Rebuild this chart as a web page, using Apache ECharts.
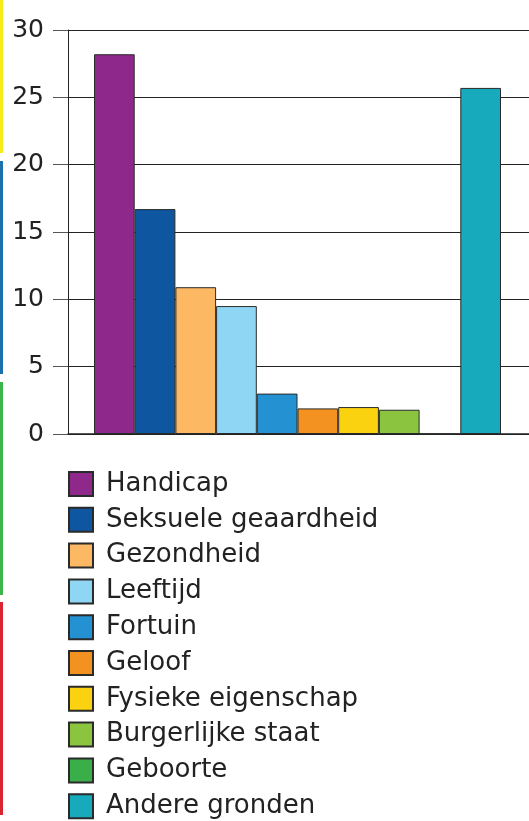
<!DOCTYPE html>
<html>
<head>
<meta charset="utf-8">
<script src="https://cdn.jsdelivr.net/npm/echarts@6/dist/echarts.min.js"></script>
<style>
  html, body { margin: 0; padding: 0; background: #fff; }
  #main { width: 529px; height: 821px; }
</style>
</head>
<body>
<div id="main"></div>
<script>
var categories = ["Handicap", "Seksuele geaardheid", "Gezondheid", "Leeftijd", "Fortuin",
  "Geloof", "Fysieke eigenschap", "Burgerlijke staat", "Geboorte", "Andere gronden"];
var values = [28.2, 16.7, 10.9, 9.5, 3.0, 1.9, 2.0, 1.8, 0, 25.7];
var colors = ["#8e288a", "#0e56a0", "#fdb863", "#8fd6f5", "#2391d2",
  "#f39220", "#fad20f", "#8bc540", "#3aae49", "#17a9bc"];
var yTicks = [0, 5, 10, 15, 20, 25, 30];

var chartDom = document.getElementById("main");
var myChart = echarts.init(chartDom);

// one series per category so every category gets its own legend entry
var series = categories.map(function (name, i) {
  var data = categories.map(function (c, j) { return j === i ? values[i] : null; });
  return {
    name: name,
    type: "bar",
    stack: "all",
    xAxisIndex: 1,
    yAxisIndex: 1,
    barWidth: "100%",
    itemStyle: { color: colors[i], borderColor: "#2a2a2a", borderWidth: 1 },
    emphasis: { disabled: true },
    data: data
  };
});

var option = {
  animation: false,
  textStyle: { fontFamily: "DejaVu Sans" },
  grid: [
    { left: 68, right: -2, top: 30, bottom: 387 },
    { left: 94, right: 28, top: 30, bottom: 387 }
  ],
  xAxis: [
    {
      gridIndex: 0, type: "value", min: 0, max: 1,
      axisLine: { show: true, lineStyle: { color: "#222", width: 1.5 } },
      axisTick: { show: false }, axisLabel: { show: false }, splitLine: { show: false }
    },
    {
      gridIndex: 1, type: "category", data: categories, show: false
    }
  ],
  yAxis: [
    {
      gridIndex: 0, type: "value", min: yTicks[0], max: yTicks[yTicks.length - 1], interval: 5,
      axisLine: { show: true, lineStyle: { color: "#222", width: 1 } },
      axisTick: { show: true, length: 15, lineStyle: { color: "#555" } },
      axisLabel: { fontSize: 25, color: "#222", margin: 24 },
      splitLine: { show: true, lineStyle: { color: "#222", width: 1 } }
    },
    {
      gridIndex: 1, type: "value", min: yTicks[0], max: yTicks[yTicks.length - 1], show: false
    }
  ],
  legend: {
    orient: "vertical",
    left: 68,
    top: 471,
    height: 420,
    padding: 0,
    icon: "rect",
    itemWidth: 24,
    itemHeight: 24,
    itemGap: 9.8,
    selectedMode: false,
    data: categories,
    textStyle: { fontSize: 26, color: "#222", padding: [0, 0, 0, 8] }
  },
  graphic: [
    { type: "rect", shape: { x: 0, y: 0, width: 3, height: 153 }, style: { fill: "#f5ec1a" } },
    { type: "rect", shape: { x: 0, y: 161, width: 3, height: 213 }, style: { fill: "#1c70ac" } },
    { type: "rect", shape: { x: 0, y: 382, width: 3, height: 213 }, style: { fill: "#3db54a" } },
    { type: "rect", shape: { x: 0, y: 602, width: 3, height: 213 }, style: { fill: "#da2432" } }
  ],
  series: series
};

option && myChart.setOption(option);
</script>
</body>
</html>
